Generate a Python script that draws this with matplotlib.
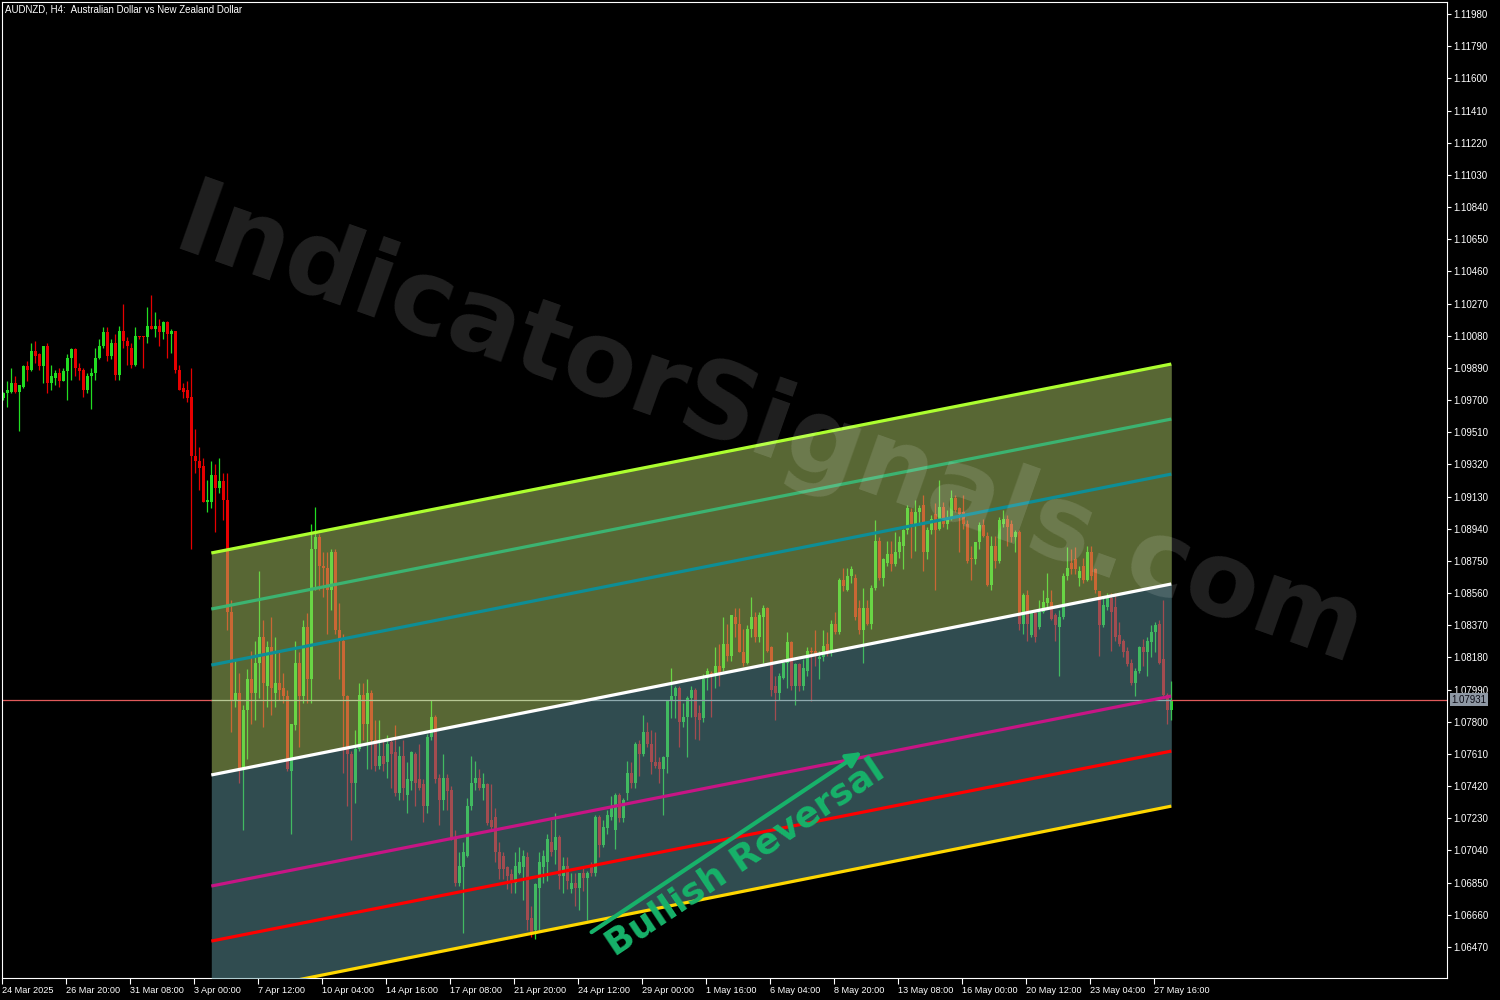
import numpy as np
import matplotlib
matplotlib.use("Agg")
import matplotlib.pyplot as plt
import matplotlib.transforms as mtransforms

plt.rcParams['font.family'] = ['Liberation Sans', 'DejaVu Sans']

title = "AUDNZD, H4:  Australian Dollar vs New Zealand Dollar"

opens = [
    1.0971, 1.0974, 1.0975, 1.0980, 1.0975, 1.0978, 1.0990, 1.0988, 1.0999, 1.0997,
    1.0990, 1.1002, 1.0980, 1.0983, 1.0986, 1.0981, 1.0987, 1.0995, 1.1000, 1.0989,
    1.0988, 1.0976, 1.0984, 1.0986, 1.0995, 1.1002, 1.1010, 1.0996, 1.1004, 1.0985,
    1.1011, 1.1005, 1.1001, 1.0991, 1.1008, 1.1008, 1.1007, 1.1014, 1.1012, 1.1014,
    1.1010, 1.1016, 1.1009, 1.1011, 1.0988, 1.0977, 1.0976, 1.0972, 1.0937, 1.0934,
    1.0931, 1.0910, 1.0910, 1.0926, 1.0918, 1.0922, 1.0911, 1.0845, 1.0793, 1.0797,
    1.0752, 1.0787, 1.0805, 1.0797, 1.0815, 1.0830, 1.0801, 1.0824, 1.0797, 1.0803,
    1.0800, 1.0795, 1.0751, 1.0778, 1.0815, 1.0795, 1.0836, 1.0805, 1.0882, 1.0889,
    1.0872, 1.0871, 1.0858, 1.0880, 1.0834, 1.0828, 1.0795, 1.0761, 1.0744, 1.0764,
    1.0796, 1.0779, 1.0797, 1.0769, 1.0754, 1.0760, 1.0756, 1.0768, 1.0762, 1.0738,
    1.0760, 1.0737, 1.0745, 1.0761, 1.0746, 1.0743, 1.0730, 1.0771, 1.0783, 1.0747,
    1.0734, 1.0747, 1.0740, 1.0711, 1.0685, 1.0694, 1.0701, 1.0730, 1.0744, 1.0747,
    1.0741, 1.0743, 1.0722, 1.0724, 1.0703, 1.0701, 1.0694, 1.0690, 1.0685, 1.0691,
    1.0694, 1.0700, 1.0664, 1.0657, 1.0682, 1.0694, 1.0697, 1.0709, 1.0704, 1.0712,
    1.0689, 1.0695, 1.0681, 1.0685, 1.0682, 1.0691, 1.0688, 1.0694, 1.0691, 1.0724,
    1.0707, 1.0717, 1.0724, 1.0716, 1.0737, 1.0723, 1.0738, 1.0750, 1.0744, 1.0767,
    1.0761, 1.0774, 1.0767, 1.0756, 1.0756, 1.0752, 1.0759, 1.0792, 1.0795, 1.0800,
    1.0780, 1.0783, 1.0794, 1.0799, 1.0785, 1.0782, 1.0806, 1.0809, 1.0809, 1.0813,
    1.0812, 1.0826, 1.0819, 1.0842, 1.0838, 1.0821, 1.0815, 1.0835, 1.0842, 1.0830,
    1.0842, 1.0847, 1.0824, 1.0801, 1.0797, 1.0806, 1.0815, 1.0827, 1.0801, 1.0814,
    1.0801, 1.0810, 1.0822, 1.0822, 1.0817, 1.0818, 1.0826, 1.0821, 1.0838, 1.0833,
    1.0864, 1.0858, 1.0866, 1.0865, 1.0847, 1.0834, 1.0847, 1.0838, 1.0859, 1.0887,
    1.0865, 1.0874, 1.0879, 1.0873, 1.0880, 1.0884, 1.0893, 1.0904, 1.0897, 1.0904,
    1.0908, 1.0880, 1.0893, 1.0903, 1.0894, 1.0907, 1.0897, 1.0900, 1.0912, 1.0906,
    1.0904, 1.0897, 1.0877, 1.0876, 1.0886, 1.0896, 1.0890, 1.0861, 1.0884, 1.0875,
    1.0897, 1.0900, 1.0897, 1.0889, 1.0892, 1.0838, 1.0855, 1.0831, 1.0844, 1.0836,
    1.0845, 1.0850, 1.0851, 1.0843, 1.0836, 1.0842, 1.0866, 1.0874, 1.0876, 1.0865,
    1.0872, 1.0864, 1.0880, 1.0870, 1.0857, 1.0837, 1.0848, 1.0853, 1.0848, 1.0831,
    1.0828, 1.0822, 1.0815, 1.0803, 1.0810, 1.0824, 1.0821, 1.0827, 1.0833, 1.0838,
    1.0817, 1.0796, 1.0787,
]
highs = [
    1.0975, 1.0981, 1.0989, 1.0984, 1.0979, 1.0991, 1.0993, 1.1004, 1.1005, 1.0998,
    1.1002, 1.1004, 1.0991, 1.0988, 1.0989, 1.0989, 1.0997, 1.1001, 1.1001, 1.0992,
    1.0989, 1.0986, 1.0989, 1.1001, 1.1006, 1.1013, 1.1013, 1.1006, 1.1009, 1.1014,
    1.1027, 1.1007, 1.1004, 1.1013, 1.1008, 1.1008, 1.1025, 1.1032, 1.1022, 1.1018,
    1.1017, 1.1017, 1.1012, 1.1011, 1.0991, 1.0980, 1.0981, 1.0989, 1.0953, 1.0942,
    1.0936, 1.0923, 1.0934, 1.0932, 1.0936, 1.0927, 1.0927, 1.0852, 1.0817, 1.0809,
    1.0790, 1.0811, 1.0822, 1.0828, 1.0869, 1.0840, 1.0828, 1.0842, 1.0830, 1.0822,
    1.0809, 1.0799, 1.0779, 1.0828, 1.0821, 1.0840, 1.0844, 1.0897, 1.0907, 1.0891,
    1.0880, 1.0880, 1.0882, 1.0882, 1.0850, 1.0832, 1.0796, 1.0763, 1.0775, 1.0803,
    1.0803, 1.0805, 1.0799, 1.0781, 1.0781, 1.0769, 1.0772, 1.0769, 1.0778, 1.0766,
    1.0769, 1.0756, 1.0763, 1.0762, 1.0767, 1.0746, 1.0773, 1.0793, 1.0784, 1.0749,
    1.0761, 1.0749, 1.0742, 1.0716, 1.0703, 1.0709, 1.0735, 1.0760, 1.0757, 1.0752,
    1.0750, 1.0744, 1.0743, 1.0729, 1.0709, 1.0703, 1.0695, 1.0693, 1.0703, 1.0706,
    1.0704, 1.0703, 1.0671, 1.0685, 1.0703, 1.0704, 1.0714, 1.0722, 1.0726, 1.0713,
    1.0700, 1.0700, 1.0691, 1.0691, 1.0691, 1.0694, 1.0692, 1.0697, 1.0725, 1.0725,
    1.0722, 1.0728, 1.0736, 1.0738, 1.0738, 1.0735, 1.0757, 1.0756, 1.0768, 1.0769,
    1.0784, 1.0780, 1.0775, 1.0774, 1.0759, 1.0760, 1.0793, 1.0812, 1.0801, 1.0801,
    1.0791, 1.0795, 1.0801, 1.0800, 1.0790, 1.0808, 1.0812, 1.0810, 1.0824, 1.0826,
    1.0842, 1.0838, 1.0843, 1.0847, 1.0847, 1.0835, 1.0837, 1.0854, 1.0845, 1.0845,
    1.0849, 1.0848, 1.0825, 1.0807, 1.0809, 1.0815, 1.0833, 1.0828, 1.0815, 1.0815,
    1.0817, 1.0824, 1.0824, 1.0834, 1.0822, 1.0834, 1.0833, 1.0840, 1.0845, 1.0865,
    1.0871, 1.0871, 1.0872, 1.0867, 1.0852, 1.0859, 1.0852, 1.0861, 1.0899, 1.0889,
    1.0877, 1.0887, 1.0887, 1.0892, 1.0890, 1.0894, 1.0908, 1.0906, 1.0911, 1.0908,
    1.0914, 1.0895, 1.0902, 1.0909, 1.0923, 1.0910, 1.0905, 1.0917, 1.0914, 1.0907,
    1.0914, 1.0899, 1.0884, 1.0886, 1.0898, 1.0900, 1.0892, 1.0890, 1.0890, 1.0901,
    1.0905, 1.0902, 1.0899, 1.0893, 1.0893, 1.0856, 1.0858, 1.0845, 1.0845, 1.0852,
    1.0858, 1.0868, 1.0858, 1.0844, 1.0846, 1.0868, 1.0883, 1.0882, 1.0883, 1.0872,
    1.0877, 1.0884, 1.0884, 1.0871, 1.0857, 1.0853, 1.0856, 1.0856, 1.0856, 1.0839,
    1.0829, 1.0824, 1.0817, 1.0812, 1.0825, 1.0829, 1.0830, 1.0837, 1.0839, 1.0840,
    1.0852, 1.0797, 1.0804,
]
lows = [
    1.0970, 1.0966, 1.0974, 1.0974, 1.0952, 1.0977, 1.0981, 1.0987, 1.0992, 1.0988,
    1.0980, 1.0974, 1.0976, 1.0979, 1.0978, 1.0981, 1.0970, 1.0982, 1.0984, 1.0982,
    1.0972, 1.0974, 1.0965, 1.0982, 1.0994, 1.1001, 1.0993, 1.0994, 1.0982, 1.0982,
    1.1001, 1.0991, 1.0989, 1.0990, 1.1006, 1.0989, 1.1004, 1.1012, 1.1007, 1.1002,
    1.1006, 1.0995, 1.0998, 1.0986, 1.0976, 1.0971, 1.0969, 1.0882, 1.0927, 1.0917,
    1.0910, 1.0904, 1.0906, 1.0892, 1.0915, 1.0899, 1.0834, 1.0774, 1.0789, 1.0744,
    1.0716, 1.0758, 1.0779, 1.0781, 1.0794, 1.0777, 1.0789, 1.0784, 1.0789, 1.0793,
    1.0791, 1.0751, 1.0714, 1.0775, 1.0765, 1.0791, 1.0791, 1.0791, 1.0858, 1.0858,
    1.0854, 1.0832, 1.0846, 1.0832, 1.0805, 1.0750, 1.0730, 1.0710, 1.0732, 1.0763,
    1.0769, 1.0752, 1.0752, 1.0751, 1.0752, 1.0751, 1.0747, 1.0741, 1.0736, 1.0734,
    1.0734, 1.0726, 1.0740, 1.0730, 1.0740, 1.0721, 1.0726, 1.0769, 1.0744, 1.0719,
    1.0728, 1.0728, 1.0710, 1.0683, 1.0683, 1.0655, 1.0700, 1.0728, 1.0740, 1.0740,
    1.0734, 1.0719, 1.0716, 1.0697, 1.0687, 1.0687, 1.0681, 1.0679, 1.0679, 1.0690,
    1.0675, 1.0657, 1.0653, 1.0652, 1.0657, 1.0685, 1.0686, 1.0701, 1.0696, 1.0681,
    1.0679, 1.0681, 1.0679, 1.0671, 1.0669, 1.0680, 1.0663, 1.0689, 1.0689, 1.0700,
    1.0706, 1.0714, 1.0722, 1.0705, 1.0721, 1.0721, 1.0734, 1.0741, 1.0741, 1.0748,
    1.0760, 1.0765, 1.0749, 1.0753, 1.0744, 1.0725, 1.0750, 1.0782, 1.0782, 1.0765,
    1.0777, 1.0759, 1.0783, 1.0770, 1.0769, 1.0780, 1.0799, 1.0783, 1.0800, 1.0801,
    1.0810, 1.0816, 1.0816, 1.0830, 1.0821, 1.0813, 1.0814, 1.0830, 1.0827, 1.0827,
    1.0815, 1.0821, 1.0795, 1.0781, 1.0793, 1.0805, 1.0800, 1.0799, 1.0790, 1.0798,
    1.0799, 1.0807, 1.0792, 1.0813, 1.0805, 1.0816, 1.0819, 1.0819, 1.0832, 1.0832,
    1.0857, 1.0857, 1.0862, 1.0840, 1.0832, 1.0815, 1.0837, 1.0835, 1.0858, 1.0864,
    1.0860, 1.0872, 1.0869, 1.0872, 1.0877, 1.0870, 1.0891, 1.0877, 1.0881, 1.0896,
    1.0869, 1.0876, 1.0891, 1.0858, 1.0893, 1.0895, 1.0894, 1.0899, 1.0904, 1.0880,
    1.0894, 1.0874, 1.0864, 1.0873, 1.0882, 1.0889, 1.0860, 1.0858, 1.0871, 1.0874,
    1.0895, 1.0884, 1.0886, 1.0880, 1.0834, 1.0832, 1.0828, 1.0830, 1.0827, 1.0835,
    1.0844, 1.0848, 1.0840, 1.0828, 1.0807, 1.0841, 1.0864, 1.0867, 1.0867, 1.0860,
    1.0862, 1.0863, 1.0864, 1.0856, 1.0819, 1.0836, 1.0846, 1.0822, 1.0828, 1.0825,
    1.0818, 1.0813, 1.0802, 1.0795, 1.0809, 1.0813, 1.0807, 1.0818, 1.0821, 1.0814,
    1.0795, 1.0779, 1.0781,
]
closes = [
    1.0974, 1.0976, 1.0980, 1.0975, 1.0979, 1.0990, 1.0988, 1.0999, 1.0996, 1.0990,
    1.1002, 1.0980, 1.0984, 1.0986, 1.0981, 1.0987, 1.0995, 1.1000, 1.0989, 1.0987,
    1.0976, 1.0984, 1.0986, 1.0995, 1.1002, 1.1010, 1.0996, 1.1004, 1.0985, 1.1011,
    1.1005, 1.1002, 1.0991, 1.1008, 1.1007, 1.1007, 1.1014, 1.1012, 1.1014, 1.1010,
    1.1016, 1.1009, 1.1011, 1.0988, 1.0976, 1.0975, 1.0971, 1.0937, 1.0934, 1.0930,
    1.0910, 1.0911, 1.0926, 1.0918, 1.0922, 1.0911, 1.0845, 1.0793, 1.0797, 1.0752,
    1.0787, 1.0805, 1.0797, 1.0815, 1.0830, 1.0803, 1.0824, 1.0800, 1.0803, 1.0799,
    1.0795, 1.0752, 1.0779, 1.0815, 1.0795, 1.0836, 1.0805, 1.0882, 1.0889, 1.0872,
    1.0871, 1.0858, 1.0880, 1.0834, 1.0828, 1.0795, 1.0761, 1.0744, 1.0764, 1.0796,
    1.0779, 1.0797, 1.0769, 1.0754, 1.0760, 1.0755, 1.0767, 1.0761, 1.0738, 1.0760,
    1.0741, 1.0746, 1.0762, 1.0744, 1.0741, 1.0730, 1.0771, 1.0783, 1.0746, 1.0734,
    1.0747, 1.0739, 1.0711, 1.0685, 1.0695, 1.0703, 1.0730, 1.0744, 1.0747, 1.0741,
    1.0743, 1.0720, 1.0718, 1.0703, 1.0693, 1.0693, 1.0689, 1.0685, 1.0695, 1.0697,
    1.0701, 1.0663, 1.0655, 1.0684, 1.0697, 1.0701, 1.0711, 1.0703, 1.0712, 1.0689,
    1.0695, 1.0686, 1.0685, 1.0682, 1.0691, 1.0688, 1.0691, 1.0691, 1.0724, 1.0707,
    1.0718, 1.0725, 1.0729, 1.0737, 1.0723, 1.0734, 1.0750, 1.0744, 1.0767, 1.0761,
    1.0774, 1.0767, 1.0756, 1.0754, 1.0752, 1.0759, 1.0792, 1.0795, 1.0800, 1.0780,
    1.0783, 1.0794, 1.0799, 1.0783, 1.0781, 1.0805, 1.0810, 1.0808, 1.0813, 1.0809,
    1.0826, 1.0819, 1.0843, 1.0838, 1.0821, 1.0815, 1.0835, 1.0842, 1.0830, 1.0843,
    1.0847, 1.0822, 1.0799, 1.0797, 1.0807, 1.0815, 1.0827, 1.0801, 1.0814, 1.0801,
    1.0812, 1.0822, 1.0821, 1.0820, 1.0818, 1.0825, 1.0821, 1.0838, 1.0833, 1.0864,
    1.0860, 1.0866, 1.0870, 1.0842, 1.0834, 1.0847, 1.0838, 1.0859, 1.0887, 1.0865,
    1.0876, 1.0879, 1.0873, 1.0880, 1.0886, 1.0893, 1.0906, 1.0897, 1.0904, 1.0906,
    1.0880, 1.0893, 1.0900, 1.0893, 1.0907, 1.0897, 1.0900, 1.0912, 1.0905, 1.0903,
    1.0897, 1.0875, 1.0876, 1.0886, 1.0896, 1.0890, 1.0861, 1.0884, 1.0875, 1.0899,
    1.0900, 1.0895, 1.0889, 1.0892, 1.0838, 1.0855, 1.0838, 1.0844, 1.0830, 1.0845,
    1.0851, 1.0853, 1.0841, 1.0837, 1.0842, 1.0866, 1.0871, 1.0870, 1.0870, 1.0869,
    1.0864, 1.0880, 1.0866, 1.0858, 1.0837, 1.0849, 1.0853, 1.0845, 1.0830, 1.0826,
    1.0821, 1.0814, 1.0803, 1.0810, 1.0824, 1.0821, 1.0828, 1.0833, 1.0837, 1.0815,
    1.0796, 1.0787, 1.07931,
]

x_labels = ["24 Mar 2025", "26 Mar 20:00", "31 Mar 08:00", "3 Apr 00:00", "7 Apr 12:00",
            "10 Apr 04:00", "14 Apr 16:00", "17 Apr 08:00", "21 Apr 20:00", "24 Apr 12:00",
            "29 Apr 00:00", "1 May 16:00", "6 May 04:00", "8 May 20:00", "13 May 08:00",
            "16 May 00:00", "20 May 12:00", "23 May 04:00", "27 May 16:00"]
bars_per_label = 16

y_ticks = [1.11980, 1.11790, 1.11600, 1.11410, 1.11220, 1.11030, 1.10840, 1.10650,
           1.10460, 1.10270, 1.10080, 1.09890, 1.09700, 1.09510, 1.09320, 1.09130,
           1.08940, 1.08750, 1.08560, 1.08370, 1.08180, 1.07990, 1.07800, 1.07610,
           1.07420, 1.07230, 1.07040, 1.06850, 1.06660, 1.06470]
y_range = (1.06287, 1.12051)

# channel anchored on bars 52 and 292
chan_bars = [52, 292]
chan_start = [1.08797, 1.08466, 1.08135, 1.07486, 1.06830, 1.06505, 1.06174]
chan_end = [1.09913, 1.09588, 1.09263, 1.08614, 1.07952, 1.07627, 1.07302]
chan_colors = ['#ADFF2F', '#3CB371', '#0E8E96', '#FFFFFF', '#C71585', '#FF0000', '#FFD700']

bid_price = 1.07931

# ---------------------------------------------------------------
O = np.array(opens); H = np.array(highs); L = np.array(lows); C = np.array(closes)
H = np.maximum.reduce([H, O, C]); L = np.minimum.reduce([L, O, C])
n = len(C)
idx = np.arange(n)

fig = plt.figure(figsize=(15, 10), dpi=100, facecolor='black')
ax = fig.add_axes([2 / 1500, 22 / 1000, 1445 / 1500, 976 / 1000])
ax.set_facecolor('black')
x_lo, x_hi = -0.325, 360.925
ax.set_xlim(x_lo, x_hi)
ax.set_ylim(*y_range)

bull = '#22DD22'
bear = '#E60000'
cols = np.where(C >= O, bull, bear)
ax.vlines(idx, L, H, colors=cols, linewidth=0.9, zorder=2)
body_bottom = np.minimum(O, C)
body_h = np.maximum(np.abs(C - O), 0.00003)
ax.bar(idx, body_h, width=0.62, bottom=body_bottom, color=cols, linewidth=0, zorder=2.1)

cx = np.array(chan_bars, dtype=float)
levels = [np.array([s, e]) for s, e in zip(chan_start, chan_end)]

# bid / ask lines
ax.plot(cx, [bid_price, bid_price], color='#C0C0C0', lw=0.9, zorder=2.5)
ax.plot([x_lo, cx[0]], [bid_price, bid_price], color='#E05A5A', lw=0.9, zorder=2.5)
ax.plot([cx[1], x_hi], [bid_price, bid_price], color='#E05A5A', lw=0.9, zorder=2.5)

# channel fills
ax.fill_between(cx, levels[3], levels[0], color='#B0CE68', alpha=0.5, lw=0, zorder=3)
ax.fill_between(cx, levels[6], levels[3], color='#6098A0', alpha=0.5, lw=0, zorder=3)
for lv, col in zip(levels, chan_colors):
    ax.plot(cx, lv, color=col, lw=2.3, zorder=4, solid_capstyle='butt')

# watermark
ax.text(0.531, 0.561, "IndicatorSignals.com", transform=ax.transAxes, fontsize=76,
        fontweight='heavy', color='white', alpha=0.13, rotation=-19.5, ha='center',
        va='center', rotation_mode='anchor', zorder=5, family='DejaVu Sans')

# annotation
green_txt = '#17B26A'
ax.text(0.514, 0.123, "Bullish Reversal", transform=ax.transAxes, fontsize=26,
        fontweight='heavy', color=green_txt, rotation=33.7, ha='center', va='center',
        rotation_mode='anchor', zorder=6, family='DejaVu Sans')
ax.annotate("", xy=(0.595, 0.2316), xytext=(0.408, 0.047), xycoords='axes fraction',
            arrowprops=dict(arrowstyle='-|>', color=green_txt, lw=3, mutation_scale=22,
                            shrinkA=0, shrinkB=0), zorder=6)

# title
ax.text(3 / 1445, 0.9928, title, transform=ax.transAxes, color='white', fontsize=7,
        va='center', ha='left')

# axes styling
for sp in ax.spines.values():
    sp.set_color('white')
    sp.set_linewidth(0.8)
ax.yaxis.tick_right()
ax.set_yticks(y_ticks)
ax.set_yticklabels([f"{v:.5f}" for v in y_ticks])
ax.tick_params(axis='y', colors='white', direction='out', length=3, width=0.8, pad=1.2,
               labelsize=7)
xt = np.arange(len(x_labels)) * bars_per_label + x_lo
ax.set_xticks(xt)
ax.set_xticklabels(x_labels, ha='left')
ax.tick_params(axis='x', colors='white', direction='out', length=4.5, width=0.8, pad=1.5,
               labelsize=6.6)

# current price label
trans = mtransforms.blended_transform_factory(ax.transAxes, ax.transData)
ax.text(1.0030, bid_price, f"{bid_price:.5f}", transform=trans, va='center', ha='left',
        fontsize=7, color='#0A0A14', zorder=7, clip_on=False,
        bbox=dict(boxstyle='square,pad=0.15', fc='#8E98A4', ec='none'))

fig.savefig('out.png', dpi=100, facecolor='black')
